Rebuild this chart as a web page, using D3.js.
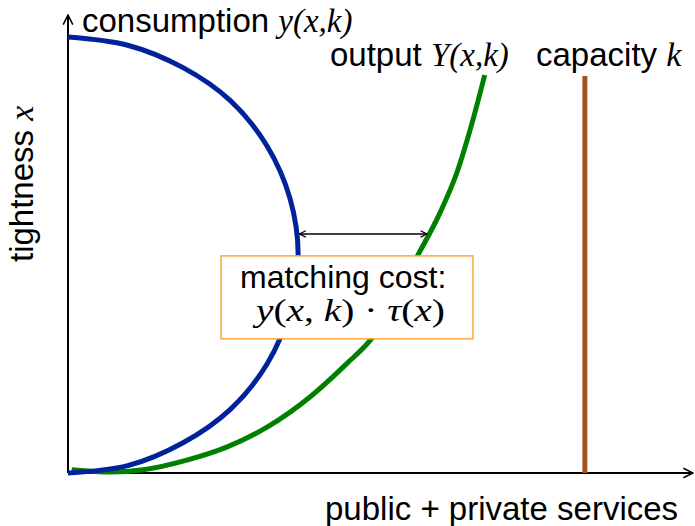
<!DOCTYPE html>
<html>
<head>
<meta charset="utf-8">
<script src="https://cdn.jsdelivr.net/npm/d3@7"></script>
<style>
  body { margin: 0; background: #fff; }
  text { font-family: "Liberation Sans", Arial, sans-serif; fill: #000; }
  .math { font-family: "Liberation Serif", "Times New Roman", serif; font-style: italic; }
</style>
</head>
<body>
<svg id="chart" width="695" height="526"></svg>
<script>
// consumption curve y(x,k): [services, tightness]
const consumption = [
  [0, 95.2], [9.6, 93.4], [18.5, 88.5], [26.1, 81.3], [32.0, 71.4], [35.7, 59.9],
  [37.0, 47.6], [35.7, 35.5], [32.0, 23.8], [26.1, 13.9], [18.5, 6.6], [9.6, 1.6], [0, 0]
];
// output curve Y(x,k)
const output = [
  [0.6, 0.7], [6.8, 0.2], [12.1, 0.7], [19.1, 2.8], [25.6, 5.7], [32.0, 10.0],
  [38.9, 16.6], [44.9, 24.0], [48.6, 29.0], [56.1, 47.2], [59.8, 56.8],
  [62.5, 65.5], [65.1, 77.1], [67.0, 86.9]
];
// capacity k (vertical line)
const capacity = { x: 83.1, top: 86.7 };
// matching gap between the curves
const gap = { y: 52.2, from: 37.2, to: 57.7 };
// annotation box extent
const costBox = { x0: 24.6, x1: 65.1, y0: 29.3, y1: 47.4 };

const svg = d3.select("#chart");

const x = d3.scaleLinear().domain([0, 100]).range([68, 690]);
const y = d3.scaleLinear().domain([0, 100]).range([473, 15]);

// arrow markers
const defs = svg.append("defs");
defs.append("marker")
  .attr("id", "head")
  .attr("viewBox", "0 0 10 10")
  .attr("refX", 9).attr("refY", 5)
  .attr("markerWidth", 8).attr("markerHeight", 8)
  .attr("markerUnits", "userSpaceOnUse")
  .attr("orient", "auto-start-reverse")
  .append("path")
  .attr("d", "M1,1 L9,5 L1,9")
  .attr("fill", "none")
  .attr("stroke", "#000")
  .attr("stroke-width", 1.5);

defs.append("marker")
  .attr("id", "axhead")
  .attr("viewBox", "0 0 10 10")
  .attr("refX", 9).attr("refY", 5)
  .attr("markerWidth", 12).attr("markerHeight", 12)
  .attr("markerUnits", "userSpaceOnUse")
  .attr("orient", "auto")
  .append("path")
  .attr("d", "M1,1 L9,5 L1,9")
  .attr("fill", "none")
  .attr("stroke", "#000")
  .attr("stroke-width", 1.3);

// axes
svg.append("line")
  .attr("x1", x(0)).attr("y1", y(0))
  .attr("x2", x(100) + 3).attr("y2", y(0))
  .attr("stroke", "#000").attr("stroke-width", 2)
  .attr("marker-end", "url(#axhead)");
svg.append("line")
  .attr("x1", x(0)).attr("y1", y(0))
  .attr("x2", x(0)).attr("y2", y(100))
  .attr("stroke", "#000").attr("stroke-width", 2)
  .attr("marker-end", "url(#axhead)");

const line = d3.line()
  .x(d => x(d[0]))
  .y(d => y(d[1]))
  .curve(d3.curveCatmullRom);

// capacity
svg.append("line")
  .attr("x1", x(capacity.x)).attr("y1", y(0))
  .attr("x2", x(capacity.x)).attr("y2", y(capacity.top))
  .attr("stroke", "#a3511b").attr("stroke-width", 5);

svg.append("path")
  .datum(output)
  .attr("d", line.curve(d3.curveMonotoneX))
  .attr("fill", "none")
  .attr("stroke", "#008000")
  .attr("stroke-width", 5);

svg.append("path")
  .datum(consumption)
  .attr("d", line.curve(d3.curveCatmullRom))
  .attr("fill", "none")
  .attr("stroke", "#00229a")
  .attr("stroke-width", 5);

// gap arrow
svg.append("line")
  .attr("x1", x(gap.from)).attr("y1", y(gap.y))
  .attr("x2", x(gap.to)).attr("y2", y(gap.y))
  .attr("stroke", "#000").attr("stroke-width", 1.5)
  .attr("marker-start", "url(#head)")
  .attr("marker-end", "url(#head)");

// matching cost box
svg.append("rect")
  .attr("x", x(costBox.x0)).attr("y", y(costBox.y1))
  .attr("width", x(costBox.x1) - x(costBox.x0))
  .attr("height", y(costBox.y0) - y(costBox.y1))
  .attr("fill", "#fff")
  .attr("stroke", "#f6a744")
  .attr("stroke-width", 1.5);

svg.append("text")
  .attr("x", 240).attr("y", 288)
  .style("font-size", "32px")
  .text("matching cost:");

// formula, widened to the look of the TeX original
svg.append("text")
  .attr("class", "math")
  .attr("transform", "translate(256,321) scale(1.27,1)")
  .style("font-size", "31px")
  .style("font-style", "normal")
  .html('<tspan font-style="italic">y</tspan>(<tspan font-style="italic">x</tspan>, <tspan font-style="italic">k</tspan>) · <tspan font-style="italic">τ</tspan>(<tspan font-style="italic">x</tspan>)');

// labels
const consLabel = svg.append("text").attr("x", 82).attr("y", 32).style("font-size", "33px");
consLabel.append("tspan").text("consumption ");
consLabel.append("tspan").attr("class", "math").style("font-size", "33px").text("y(x,k)");

const outLabel = svg.append("text").attr("x", 330).attr("y", 66).style("font-size", "33px");
outLabel.append("tspan").text("output ");
outLabel.append("tspan").attr("class", "math").style("font-size", "33px").text("Y(x,k)");

const capLabel = svg.append("text").attr("x", 536).attr("y", 66).style("font-size", "33px");
capLabel.append("tspan").text("capacity ");
capLabel.append("tspan").attr("class", "math").style("font-size", "34px").text("k");

svg.append("text")
  .attr("x", 325).attr("y", 520)
  .style("font-size", "33px")
  .text("public + private services");

const yLabel = svg.append("text")
  .attr("transform", "translate(33,262) rotate(-90)")
  .style("font-size", "33px");
yLabel.append("tspan").text("tightness ");
yLabel.append("tspan").attr("class", "math").style("font-size", "34px").text("x");
</script>
</body>
</html>
